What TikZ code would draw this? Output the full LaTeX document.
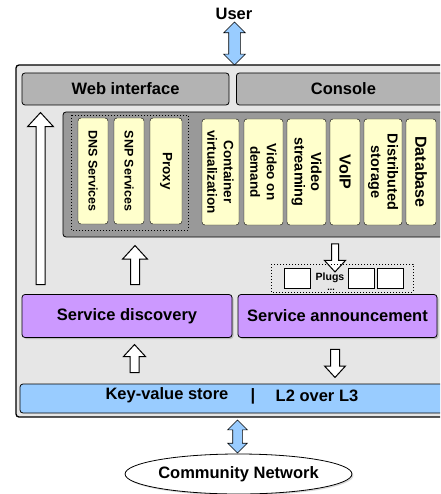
\documentclass[tikz,border=0pt]{standalone}
\usepackage{fontspec}
\setmainfont{Liberation Sans}
\usetikzlibrary{shapes.arrows,shapes.geometric,shadows}
\definecolor{bglight}{HTML}{E6E6E6}
\definecolor{boxgray}{HTML}{B3B3B3}
\definecolor{panelgray}{HTML}{999999}
\definecolor{appyellow}{HTML}{FFFFCC}
\definecolor{svcpurple}{HTML}{CC99FF}
\definecolor{netblue}{HTML}{99CCFF}
\tikzset{
  bigfont/.style={font=\fontsize{16.5}{19}\selectfont\bfseries},
  box/.style={draw, rounded corners=3pt, line width=0.8pt, inner sep=0pt, bigfont},
  graybox/.style={box, fill=boxgray},
  svcbox/.style={box, fill=svcpurple, drop shadow={shadow xshift=1.5pt, shadow yshift=-1.5pt, opacity=0.4}},
  appbox/.style={draw, rounded corners=3pt, fill=appyellow, rotate=-90, align=center, inner sep=0pt, minimum width=106pt, font=\fontsize{13.5}{16.5}\selectfont\bfseries},
  plugbox/.style={draw, fill=white, line width=0.6pt, minimum width=26pt, minimum height=20pt, inner sep=0pt},
  dotbox/.style={line width=0.9pt, dash pattern=on 0.9pt off 2.1pt},
  hollowarrow/.style={single arrow, draw, fill=white, line width=1pt, inner xsep=0pt, single arrow tip angle=85},
  bluearrow/.style={double arrow, draw, fill=netblue, line width=0.6pt, inner xsep=0pt, rotate=90, double arrow head extend=5pt}
}
\begin{document}
\begin{tikzpicture}[x=1pt,y=-1pt]
  \clip (0,0) rectangle (440,494);

  % user side
  \node[bigfont] (user) at (234,14) {User};
  \node[bluearrow, inner ysep=5.5pt, minimum height=43pt] (userarrow) at (234.5,43.5) {};

  % outer frame
  \draw[fill=bglight, line width=1.3pt, rounded corners=3pt] (16,65) rectangle (470,417);

  \node[graybox, minimum width=207pt, minimum height=32pt] (web) at (125.5,89) {Web interface};
  \node[graybox, minimum width=214pt, minimum height=32pt, anchor=west] (console) at (236,89) {Console};

  % applications panel
  \draw[fill=panelgray, line width=0.8pt, rounded corners=3pt] (63,112) rectangle (470,237);
  \draw[dotbox] (71,115) rectangle (188,230);

  \node[appbox, minimum height=30pt, font=\fontsize{12.5}{15}\selectfont\bfseries] (dns) at (93,171) {DNS Services};
  \node[appbox, minimum height=30pt, font=\fontsize{12.5}{15}\selectfont\bfseries] (snp) at (129,171) {SNP Services};
  \node[appbox, minimum height=32pt] (proxy) at (166,171) {Proxy};
  \node[appbox, minimum height=37pt] (container) at (220.5,172) {Container\\virtualization};
  \node[appbox, minimum height=39pt] (vod) at (263.5,172) {Video on\\demand};
  \node[appbox, minimum height=39pt, font=\fontsize{14.5}{16.5}\selectfont\bfseries] (vstream) at (306.5,172) {Video\\streaming};
  \node[appbox, minimum height=30pt, font=\fontsize{16}{18}\selectfont\bfseries] (voip) at (345,172) {VoIP};
  \node[appbox, minimum height=38pt, font=\fontsize{14.5}{16.5}\selectfont\bfseries] (storage) at (383,172) {Distributed\\storage};
  \node[appbox, minimum height=30pt, font=\fontsize{16}{18}\selectfont\bfseries] (database) at (421,172) {Database};

  % discovery / announcement
  \node[hollowarrow, rotate=90, inner ysep=4pt, single arrow head extend=8.5pt, minimum height=172pt] (longup) at (40.5,201) {};
  \node[hollowarrow, rotate=90, inner ysep=4pt, single arrow head extend=8pt, minimum height=39pt] (panelup) at (135,267.5) {};
  \node[hollowarrow, rotate=-90, inner ysep=3pt, single arrow head extend=7pt, minimum height=28pt] (paneldown) at (335,256) {};

  \draw[dotbox] (271,264) rectangle (413,292);
  \node[plugbox] (plugA) at (297,278) {};
  \node[font=\fontsize{10.5}{12}\selectfont\bfseries, inner sep=0pt] (plugs) at (330,278) {Plugs};
  \node[font=\fontsize{9}{10}\selectfont\bfseries, inner sep=0pt] (plugdots) at (331,289.5) {...};
  \node[plugbox] (plugB) at (361,278) {};
  \node[plugbox] (plugC) at (390,278) {};

  \node[svcbox, minimum width=210pt, minimum height=43pt] (discovery) at (127,316) {Service discovery};
  \node[svcbox, minimum width=199pt, minimum height=43pt] (announce) at (337.5,316) {Service announcement};

  \node[hollowarrow, rotate=90, inner ysep=4pt, single arrow head extend=6.5pt, minimum height=28pt] (kvup) at (134.5,361) {};
  \node[hollowarrow, rotate=-90, inner ysep=4pt, single arrow head extend=6pt, minimum height=28pt] (kvdown) at (335,361) {};

  % transport layer
  \draw[fill=netblue, line width=0.8pt, rounded corners=3pt] (20,384) rectangle (470,413);
  \node[bigfont] (kv) at (167,395.5) {Key-value store};
  \node[bigfont] (bar) at (253,396) {|};
  \node[bigfont] (l2) at (317,395.5) {L2 over L3};

  % community network
  \node[bluearrow, inner ysep=4.5pt, minimum height=33pt] (netarrow) at (237.5,436.5) {};
  \node[ellipse, draw, fill=white, line width=0.8pt, minimum width=217pt, minimum height=40pt, inner sep=0pt, bigfont,
        drop shadow={shadow xshift=1.5pt, shadow yshift=-1.5pt, opacity=0.3}] (community) at (238.5,474) {Community Network};
\end{tikzpicture}
\end{document}
